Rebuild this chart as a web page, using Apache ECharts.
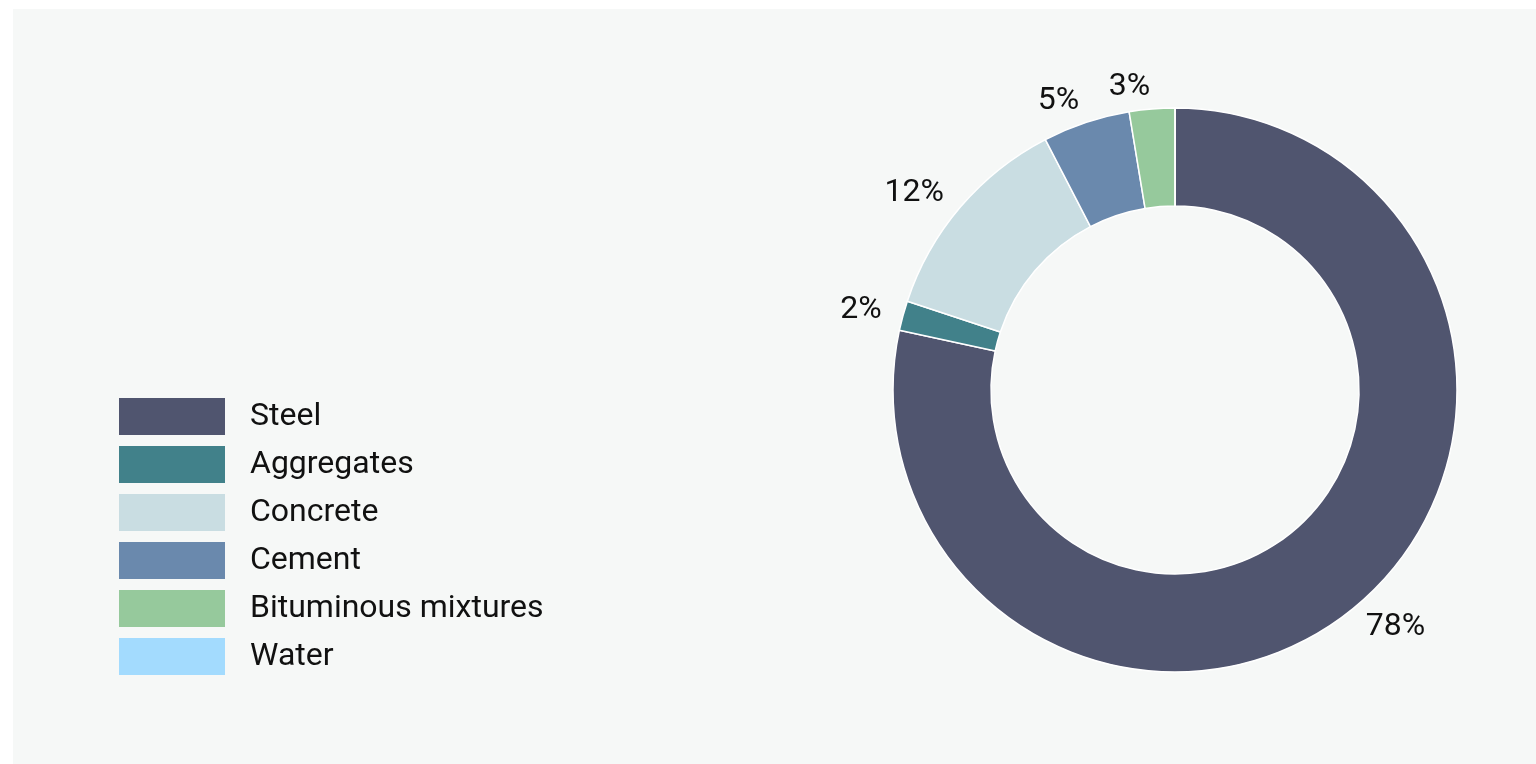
<!DOCTYPE html>
<html>
<head>
<meta charset="utf-8">
<script src="https://cdn.jsdelivr.net/npm/echarts@6/dist/echarts.min.js"></script>
<style>
  html, body { margin: 0; padding: 0; background: #ffffff; width: 1536px; height: 764px; overflow: hidden; }
  #panel { position: absolute; left: 13px; top: 9px; width: 1523px; height: 755px; background: #f6f8f7; }
  #chart { position: absolute; left: 0; top: 0; width: 1536px; height: 764px; }
</style>
</head>
<body>
<div id="panel"></div>
<div id="chart"></div>
<script>
// Data (percent shares)
const categories = ['Steel', 'Aggregates', 'Concrete', 'Cement', 'Bituminous mixtures', 'Water'];
const shares = [78.4, 1.7, 12.3, 5.0, 2.6, 0];
const colors = ['#50556f', '#41818a', '#c9dde2', '#6a89ad', '#96c99c', '#a3dbfe'];

const chart = echarts.init(document.getElementById('chart'), null, { renderer: 'canvas' });
const FONT = 'Roboto, "Noto Sans", sans-serif';

chart.setOption({
  backgroundColor: 'transparent',
  color: colors,
  animation: false,
  legend: {
    orient: 'vertical',
    left: 119,
    top: 398,
    padding: 0,
    itemWidth: 106,
    itemHeight: 37,
    itemGap: 11,
    icon: 'rect',
    selectedMode: false,
    itemStyle: { borderWidth: 0 },
    data: categories,
    textStyle: {
      fontFamily: FONT,
      fontSize: 32,
      color: '#111',
      lineHeight: 35,
      padding: [0, 0, 0, 20]
    }
  },
  series: [{
    type: 'pie',
    center: [1175, 390],
    radius: [184, 282],
    startAngle: 90,
    clockwise: true,
    avoidLabelOverlap: false,
    minShowLabelAngle: 0.5,
    itemStyle: { borderColor: '#ffffff', borderWidth: 1.5 },
    label: {
      show: true,
      position: 'outside',
      fontFamily: FONT,
      fontSize: 32,
      color: '#111',
      distanceToLabelLine: 0,
      formatter: p => Math.round(p.value) + '%'
    },
    labelLine: { show: false, length: 22, length2: 0 },
    emphasis: { disabled: true },
    data: categories.map((c, i) => ({ name: c, value: shares[i] }))
  }]
});
</script>
</body>
</html>
